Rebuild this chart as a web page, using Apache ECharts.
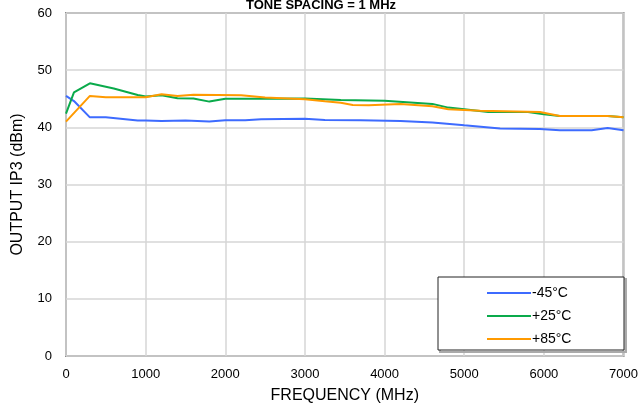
<!DOCTYPE html>
<html><head><meta charset="utf-8">
<script src="https://cdn.jsdelivr.net/npm/echarts@6/dist/echarts.min.js"></script>
<style>html,body{margin:0;padding:0;background:#fff}#c{width:641px;height:409px}</style>
</head><body><div id="c"></div>
<script>
var seriesNames = ['-45°C', '+25°C', '+85°C'];
var freqM45 = [0, 100, 300, 500, 900, 1000, 1200, 1500, 1800, 2000, 2250, 2450, 3000, 3250, 3700, 4200, 4600, 5000, 5450, 5950, 6200, 6600, 6800, 7000];
var valM45 = [45.5, 44.6, 41.75, 41.75, 41.2, 41.2, 41.1, 41.2, 41.0, 41.25, 41.25, 41.4, 41.5, 41.3, 41.25, 41.1, 40.85, 40.35, 39.8, 39.7, 39.5, 39.5, 39.9, 39.5];
var freqP25 = [0, 100, 300, 600, 900, 1000, 1200, 1400, 1600, 1800, 2000, 2450, 3000, 3450, 4000, 4600, 4800, 5000, 5300, 5800, 6000, 6200, 6800, 7000];
var valP25 = [42.4, 46.1, 47.7, 46.8, 45.65, 45.4, 45.6, 45.1, 45.05, 44.5, 45.0, 45.0, 45.05, 44.8, 44.65, 44.1, 43.45, 43.15, 42.7, 42.7, 42.3, 42.0, 42.0, 41.75];
var freqP85 = [0, 300, 500, 1000, 1200, 1400, 1600, 2200, 2500, 3000, 3250, 3450, 3600, 3800, 4200, 4600, 4800, 5200, 5950, 6200, 6800, 7000];
var valP85 = [41.0, 45.5, 45.25, 45.25, 45.8, 45.5, 45.7, 45.6, 45.2, 44.9, 44.55, 44.3, 43.9, 43.85, 44.1, 43.7, 43.15, 42.9, 42.7, 42.0, 42.0, 41.75];
var xTicks = [0, 1000, 2000, 3000, 4000, 5000, 6000, 7000];
var yTicks = [0, 10, 20, 30, 40, 50, 60];
var colors = ['#3d6bff', '#0aaa4b', '#ff9a00'];

function zip(a, b) { return a.map(function (v, i) { return [v, b[i]]; }); }

var chart = echarts.init(document.getElementById('c'), null, {renderer: 'canvas'});
var font = 'Arial, "Liberation Sans", sans-serif';
chart.setOption({
  animation: false,
  textStyle: {fontFamily: font},
  title: {
    text: 'TONE SPACING = 1 MHz', left: 316, top: -6, textAlign: 'center',
    textStyle: {fontSize: 13, fontWeight: 'bold', color: '#000', fontFamily: font}
  },
  grid: {left: 66, right: 17, top: 13, bottom: 53, show: true, borderColor: '#8c8c8c', borderWidth: 2, backgroundColor: '#fff'},
  xAxis: {
    type: 'value', min: xTicks[0], max: xTicks[xTicks.length - 1], interval: 1000,
    name: 'FREQUENCY (MHz)', nameLocation: 'middle', nameGap: 32,
    nameTextStyle: {fontSize: 16, color: '#000', fontFamily: font},
    axisLine: {show: false}, axisTick: {show: false},
    axisLabel: {fontSize: 13, color: '#000', margin: 12, fontFamily: font, formatter: function (v) { return String(v); }},
    splitLine: {show: true, lineStyle: {color: '#d6d6d6', width: 1.5}}
  },
  yAxis: {
    type: 'value', min: yTicks[0], max: yTicks[yTicks.length - 1], interval: 10,
    name: 'OUTPUT IP3 (dBm)', nameLocation: 'middle', nameGap: 40,
    nameTextStyle: {fontSize: 16, color: '#000', fontFamily: font},
    axisLine: {show: false}, axisTick: {show: false},
    axisLabel: {fontSize: 13, color: '#000', margin: 14, fontFamily: font},
    splitLine: {show: true, lineStyle: {color: '#d6d6d6', width: 1.5}}
  },
  legend: {
    orient: 'vertical', left: 482, top: 281, itemGap: 9, itemWidth: 44, itemHeight: 14, z: 200, zlevel: 0,
    icon: 'path://M0,6 L44,6 L44,8 L0,8 Z',
    textStyle: {fontSize: 14, color: '#000', padding: [0, 0, 0, -4], fontFamily: font},
    data: seriesNames
  },
  graphic: [
    {type: 'rect', shape: {x: 440, y: 279, width: 186, height: 73}, style: {fill: 'none', stroke: '#aaaaaa', lineWidth: 2}, z: 50},
    {type: 'rect', shape: {x: 438, y: 277, width: 186, height: 73}, style: {fill: '#fff', stroke: '#222', lineWidth: 1}, z: 51}
  ],
  series: [
    {name: seriesNames[0], type: 'line', data: zip(freqM45, valM45), showSymbol: false, lineStyle: {width: 2, color: colors[0]}, itemStyle: {color: colors[0]}},
    {name: seriesNames[1], type: 'line', data: zip(freqP25, valP25), showSymbol: false, lineStyle: {width: 2, color: colors[1]}, itemStyle: {color: colors[1]}},
    {name: seriesNames[2], type: 'line', data: zip(freqP85, valP85), showSymbol: false, lineStyle: {width: 2, color: colors[2]}, itemStyle: {color: colors[2]}}
  ]
});
</script></body></html>
